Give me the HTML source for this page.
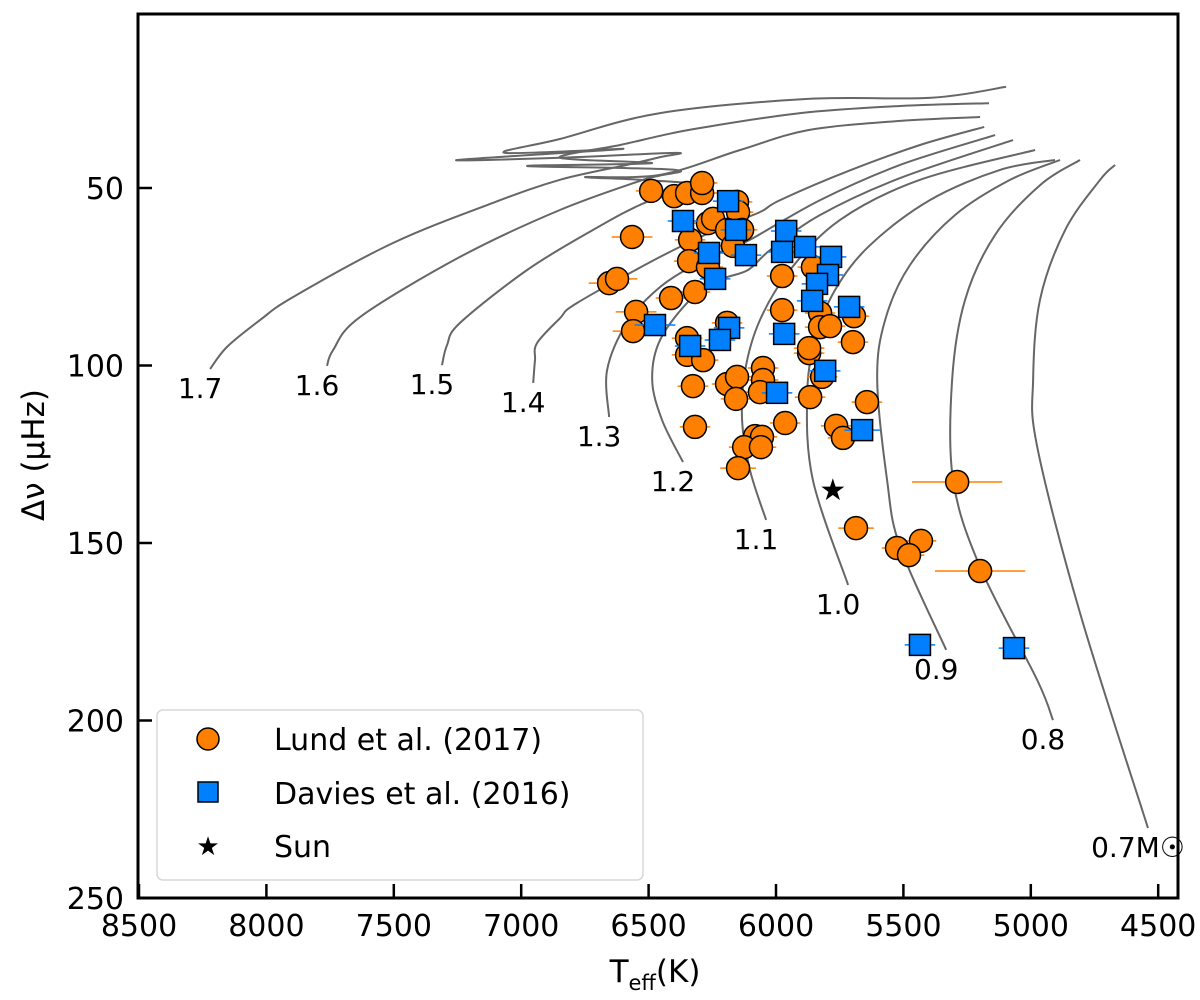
<!DOCTYPE html>
<html><head><meta charset="utf-8"><style>
html,body{margin:0;padding:0;background:#fff;}
svg{display:block;font-family:"DejaVu Sans","Liberation Sans",sans-serif;}
</style></head><body>
<svg id="chart" width="1200" height="1000" viewBox="0 0 1200 1000" xmlns="http://www.w3.org/2000/svg">
<g id="tracks"></g>
<g id="points"></g>
<g id="axes"></g>
<g id="legend">
  <rect x="157" y="710" width="486" height="170" rx="6" fill="#fff" fill-opacity="0.8" stroke="#d8d8d8" stroke-width="1.5"/>
  <circle cx="208" cy="739" r="11" fill="#ff8000" stroke="#000" stroke-width="1.5"/>
  <text x="274" y="750" font-size="30">Lund et al. (2017)</text>
  <rect x="198" y="782" width="20" height="20" fill="#0080ff" stroke="#000" stroke-width="1.5"/>
  <text x="274" y="804" font-size="30">Davies et al. (2016)</text>
  <text x="208" y="855" font-size="26" text-anchor="middle">★</text>
  <text x="274" y="857" font-size="30">Sun</text>
</g>
</svg>
<script>
// ---- data ----
const lundTeff = [6490,6400,6349,6290,6290,6153,6149,6267,6247,6192,6133,6169,6565,6337,6341,6655,6624,6412,6318,6267,6549,6561,6349,6192,6349,6286,6326,6192,6153,6051,6051,6063,6157,6318,6082,6055,6125,6059,6149,5976,5976,5964,5866,5870,5870,5855,5827,5827,5788,5694,5698,5819,5643,5764,5737,5289,5686,5525,5431,5478,5199];
const lundDnu = [50.8,52.3,51.4,51.4,48.6,53.9,56.8,59.9,58.7,61.8,61.8,66.3,63.8,64.6,70.6,76.8,75.6,81.0,79.3,72.3,84.9,90.3,92.3,88.0,97.0,98.5,105.8,105.2,103.2,100.7,104.1,107.5,109.4,117.3,119.9,120.1,123.0,123.0,128.9,74.8,84.4,116.2,108.9,96.5,95.1,72.3,85.2,89.2,88.9,86.1,93.4,103.2,110.3,117.0,120.4,132.8,145.8,151.4,149.4,153.4,157.9];
const lundErr = [60,60,60,60,60,60,60,60,60,60,60,60,80,60,60,80,80,60,60,60,80,80,60,60,60,60,60,60,60,60,60,60,60,60,60,60,60,60,70,60,60,60,60,60,60,60,60,60,60,60,60,60,60,60,60,177,70,60,60,60,177];
const daviesTeff = [6188,6365,6157,5960,6263,6118,5976,5886,5784,5796,5839,5858,5713,6239,6475,6184,6220,6337,5968,5807,5996,5662,5435,5066];
const daviesDnu = [53.7,59.3,61.8,62.1,68.3,68.9,68.0,66.6,69.4,74.5,77.0,81.8,83.5,75.6,88.6,89.4,92.8,94.5,91.1,101.5,107.7,118.2,178.7,179.6];
const daviesErr = [60,60,60,60,60,60,60,60,60,60,60,60,60,60,80,60,60,60,60,60,60,70,60,60];
const sunTeff = 5777, sunDnu = 135.1;
const trackLabels = ["1.7","1.6","1.5","1.4","1.3","1.2","1.1","1.0","0.9","0.8","0.7M☉"];
const trackT = [
 [8221,8155,8025,7895,7503,7111,6848,6585,6455,6396,6848,7252,6600,7063,6848,6455,5874,5391,5097],
 [7762,7738,7632,7240,6848,6522,6396,6977,6487,6848,6612,6455,6298,5905,5513,5164],
 [7311,7291,7240,6977,6718,6506,6298,6534,6749,6455,6141,5874,5513,5199],
 [6953,6946,6938,6848,6781,6455,6220,6063,5984,5709,5435,5183],
 [6655,6663,6585,6455,6298,6180,6102,5827,5513,5140],
 [6365,6447,6486,6455,6337,6220,6110,6023,5827,5513,5070],
 [6039,6102,6133,6121,6063,5945,5749,5435,4983],
 [5717,5855,5878,5847,5768,5631,5396,5121,4905],
 [5332,5513,5564,5603,5572,5474,5297,5081,4885],
 [4913,4975,5199,5305,5309,5258,5140,4964,4807],
 [4540,4807,4975,4991,4964,4865,4728,4669]
];
const trackDnu = [
 [101.0,94.8,87.2,80.7,65.5,54.2,47.7,43.5,41.3,40.1,41.5,42.1,39.0,40.1,36.2,28.9,24.9,24.6,21.5],
 [100.1,95.6,86.3,69.4,56.2,47.7,44.9,43.8,43.0,41.5,37.9,35.3,33.1,28.9,26.9,26.1],
 [99.9,94.2,88.0,73.1,61.8,53.9,49.4,47.7,46.9,46.3,39.3,33.7,31.1,30.0],
 [104.9,98.5,93.7,86.7,82.4,69.4,61.3,56.8,53.4,45.0,37.9,32.8],
 [114.5,101.3,88.0,77.9,70.8,66.9,64.6,53.4,43.5,35.1],
 [127.2,115.4,104.1,92.8,81.5,75.9,73.1,67.5,57.6,47.2,36.5],
 [143.5,129.5,115.4,101.3,87.2,73.1,59.0,47.7,39.3],
 [161.8,132.3,108.9,92.8,78.7,66.1,53.4,44.9,42.1],
 [180.1,151.1,132.3,104.1,87.2,71.7,57.6,47.7,42.1],
 [199.9,188.6,156.8,132.3,104.1,81.5,63.2,49.2,42.1],
 [230.3,169.7,122.9,104.1,81.5,61.8,47.7,43.5]
];
const xTicks = [8500,8000,7500,7000,6500,6000,5500,5000,4500];
const yTicks = [50,100,150,200,250];

// ---- axes functions ----
const X0=139, XK=0.2548; // px per K
function xs(t){return X0+(8500-t)*XK;}
function ys(d){return 188+(d-50)*3.55;}
const NS="http://www.w3.org/2000/svg";
function mk(tag,attrs,parent){const e=document.createElementNS(NS,tag);for(const k in attrs)e.setAttribute(k,attrs[k]);parent.appendChild(e);return e;}

// tracks
const gT=document.getElementById('tracks');
function smoothPath(pts){
  let d="M"+pts[0][0].toFixed(1)+","+pts[0][1].toFixed(1);
  for(let i=0;i<pts.length-1;i++){
    const p0=pts[i-1]||pts[i],p1=pts[i],p2=pts[i+1],p3=pts[i+2]||p2;
    const c1=[p1[0]+(p2[0]-p0[0])/6,p1[1]+(p2[1]-p0[1])/6];
    const c2=[p2[0]-(p3[0]-p1[0])/6,p2[1]-(p3[1]-p1[1])/6];
    d+=" C"+c1[0].toFixed(1)+","+c1[1].toFixed(1)+" "+c2[0].toFixed(1)+","+c2[1].toFixed(1)+" "+p2[0].toFixed(1)+","+p2[1].toFixed(1);
  }
  return d;
}
trackT.forEach((ts,i)=>{
  const pts=ts.map((t,j)=>[xs(t),ys(trackDnu[i][j])]);
  const p=mk('path',{d:smoothPath(pts),fill:'none',stroke:'#666',"stroke-width":2},gT);
  
  
  const lx=pts[0][0]-10, ly=pts[0][1]+29;
  const tx=mk('text',{x:lx,y:ly,"font-size":28,"text-anchor":"middle"},gT);
  tx.textContent=trackLabels[i];
  
  
});

// points
const gP=document.getElementById('points');
lundTeff.forEach((t,i)=>{
  const y=ys(lundDnu[i]);
  const l=mk('line',{x1:xs(t+lundErr[i]),x2:xs(t-lundErr[i]),y1:y,y2:y,stroke:'#ff8000',"stroke-width":1.5},gP);
  
  
});
lundTeff.forEach((t,i)=>{
  const c=mk('circle',{cx:xs(t),cy:ys(lundDnu[i]),r:11.5,fill:'#ff8000',stroke:'#000',"stroke-width":1.5},gP);
  
  
});
daviesTeff.forEach((t,i)=>{
  const y=ys(daviesDnu[i]);
  const l=mk('line',{x1:xs(t+daviesErr[i]),x2:xs(t-daviesErr[i]),y1:y,y2:y,stroke:'#0080ff',"stroke-width":1.5},gP);
  
  
});
daviesTeff.forEach((t,i)=>{
  const r=mk('rect',{x:xs(t)-10.5,y:ys(daviesDnu[i])-10.5,width:21,height:21,fill:'#0080ff',stroke:'#000',"stroke-width":1.5},gP);
  
  
});
const sun=mk('text',{x:xs(sunTeff),y:ys(sunDnu)+10,"font-size":30,"text-anchor":"middle"},gP);
sun.textContent='★';



// axes
const gA=document.getElementById('axes');
const frame=mk('rect',{x:138,y:14,width:1040,height:884,fill:'none',stroke:'#000',"stroke-width":3},gA);


xTicks.forEach(t=>{
  const x=xs(t);
  const l=mk('line',{x1:x,x2:x,y1:898,y2:884,stroke:'#000',"stroke-width":2.5},gA);
  
  
  const tx=mk('text',{x:x,y:936,"font-size":30,"text-anchor":"middle"},gA);
  tx.textContent=t;
  
  
});
yTicks.forEach(v=>{
  const y=ys(v);
  const l=mk('line',{x1:138,x2:152,y1:y,y2:y,stroke:'#000',"stroke-width":2.5},gA);
  
  
  const tx=mk('text',{x:124,y:y+11,"font-size":30,"text-anchor":"end"},gA);
  tx.textContent=v;
  
  
});
const xl=mk('text',{x:655,y:982,"font-size":31,"text-anchor":"middle"},gA);
xl.innerHTML='T<tspan font-size="21" dy="8">eff</tspan><tspan dy="-8">(K)</tspan>';


const yl=mk('text',{x:0,y:0,"font-size":31,"text-anchor":"middle",transform:'translate(44,455) rotate(-90)'},gA);
yl.textContent='Δν (μHz)';


</script>
</body></html>
